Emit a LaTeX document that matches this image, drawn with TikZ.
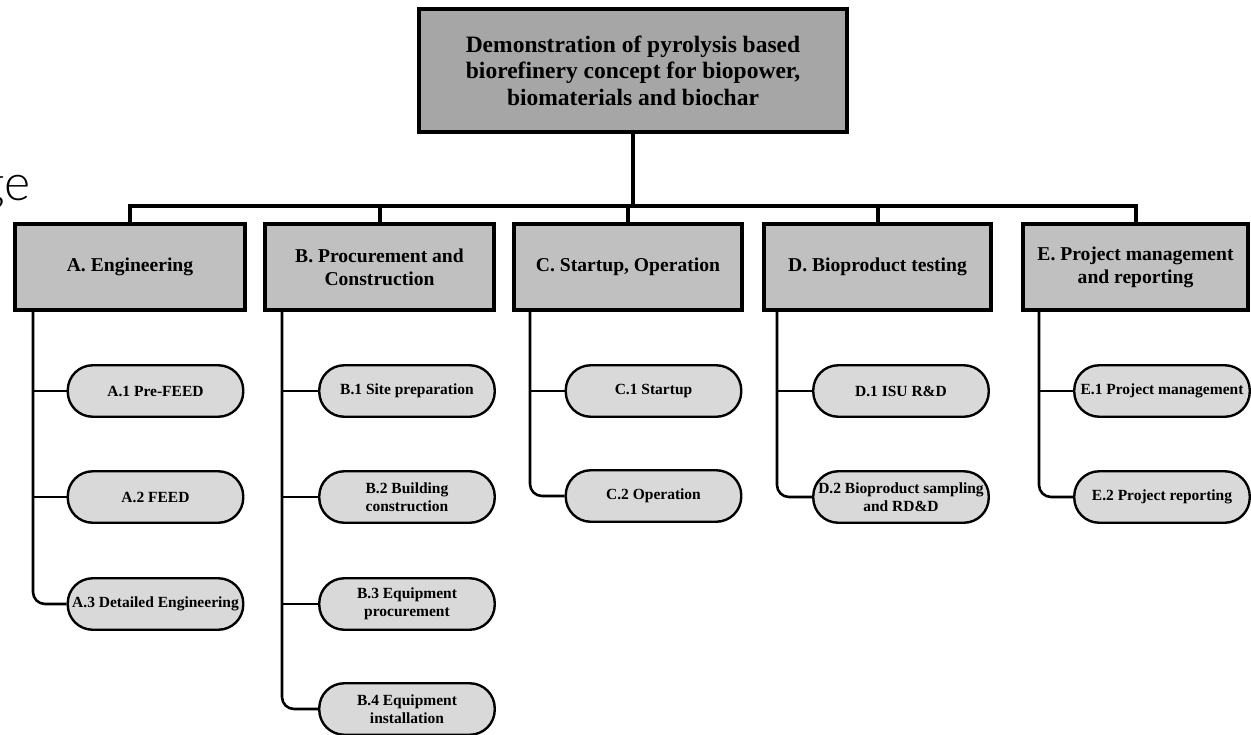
\documentclass[tikz,border=0pt]{standalone}
\usepackage{fontspec}
\setmainfont{Liberation Serif}
\newfontfamily\thinfont{Lato Light}
\definecolor{topfill}{HTML}{A6A6A6}
\definecolor{phasefill}{HTML}{C0C0C0}
\definecolor{taskfill}{HTML}{D9D9D9}
\begin{document}
\begin{tikzpicture}[x=1pt,y=-1pt,
  topbox/.style={draw, line width=4pt, fill=topfill, minimum width=428pt, minimum height=123pt, inner sep=0pt, align=center, font=\fontsize{23.5}{26.5}\selectfont\bfseries},
  phase/.style={draw, line width=4pt, fill=phasefill, minimum height=86pt, inner sep=0pt, align=center, font=\fontsize{19.6}{23}\selectfont\bfseries},
  task/.style={draw, line width=2.4pt, fill=taskfill, minimum width=175.5pt, minimum height=51.5pt, rounded corners=25pt, inner sep=0pt, align=center, font=\fontsize{15.5}{18.5}\selectfont\bfseries},
  bus/.style={line width=4pt},
  spine/.style={line width=2.6pt},
  link/.style={line width=2.2pt},
  lastlink/.style={line width=2.4pt, rounded corners=12pt},
]
\useasboundingbox (0,0) rectangle (1251,734);

\node[font=\thinfont\fontsize{50}{50}\selectfont, anchor=base east, inner sep=0pt] (ge) at (31,200) {ge};

\node[topbox] (top) at (633,70.5) {Demonstration of pyrolysis based\\biorefinery concept for biopower,\\biomaterials and biochar};

\node[phase, minimum width=230pt] (A) at (130,267) {A. Engineering};
\node[phase, minimum width=229pt] (B) at (379.5,267) {B. Procurement and\\Construction};
\node[phase, minimum width=228pt] (C) at (628,267) {C. Startup, Operation};
\node[phase, minimum width=227pt] (D) at (877.5,267) {D. Bioproduct testing};
\node[phase, minimum width=225pt] (E) at (1135.5,267) {E. Project management\\and reporting};

\coordinate (busy) at (0,206);
\draw[bus] (top.south) -- (top.south |- busy);
\draw[bus] (A.north) -- (A.north |- busy) -- (E.north |- busy) -- (E.north);
\draw[bus] (B.north) -- (B.north |- busy);
\draw[bus] (C.north) -- (C.north |- busy);
\draw[bus] (D.north) -- (D.north |- busy);

% tasks
\node[task] (A1) at (155.5,391) {A.1 Pre-FEED};
\node[task] (A2) at (155.5,497) {A.2 FEED};
\node[task] (A3) at (155.5,604) {A.3 Detailed Engineering};

\node[task] (B1) at (407,391) {B.1 Site preparation};
\node[task] (B2) at (407,497) {B.2 Building\\construction};
\node[task] (B3) at (407,604) {B.3 Equipment\\procurement};
\node[task] (B4) at (407,709) {B.4 Equipment\\installation};

\node[task] (C1) at (653.5,391) {C.1 Startup};
\node[task] (C2) at (653.5,496) {C.2 Operation};

\node[task] (D1) at (901,391) {D.1 ISU R\&D};
\node[task] (D2) at (901,497) {D.2 Bioproduct sampling\\and RD\&D};

\node[task] (E1) at (1162,391) {E.1 Project management};
\node[task] (E2) at (1162,497) {E.2 Project reporting};

% spines
\coordinate (sA) at ([xshift=20pt]A.south west);
\coordinate (sB) at ([xshift=19pt]B.south west);
\coordinate (sC) at ([xshift=18pt]C.south west);
\coordinate (sD) at ([xshift=15pt]D.south west);
\coordinate (sE) at ([xshift=18pt]E.south west);

\draw[spine, rounded corners=12pt] (sA) |- (A3.west);
\draw[link] (A1.west) -- (A1.west -| sA);
\draw[link] (A2.west) -- (A2.west -| sA);

\draw[spine, rounded corners=12pt] (sB) |- (B4.west);
\draw[link] (B1.west) -- (B1.west -| sB);
\draw[link] (B2.west) -- (B2.west -| sB);
\draw[link] (B3.west) -- (B3.west -| sB);

\draw[spine, rounded corners=12pt] (sC) |- (C2.west);
\draw[link] (C1.west) -- (C1.west -| sC);

\draw[spine, rounded corners=12pt] (sD) |- (D2.west);
\draw[link] (D1.west) -- (D1.west -| sD);

\draw[spine, rounded corners=12pt] (sE) |- (E2.west);
\draw[link] (E1.west) -- (E1.west -| sE);
\end{tikzpicture}
\end{document}
